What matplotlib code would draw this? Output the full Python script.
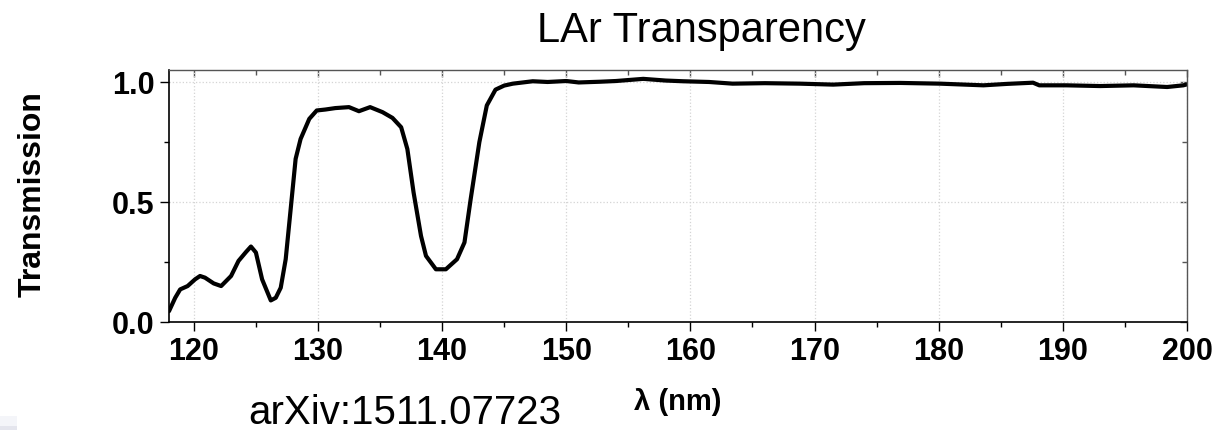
import matplotlib
matplotlib.use("Agg")
import matplotlib.pyplot as plt
from matplotlib.patches import Rectangle

plt.rcParams['font.family'] = ['Liberation Sans', 'DejaVu Sans']

# Data
wavelength_nm = [118.0, 118.5, 118.9, 119.5, 120.1, 120.5, 120.9, 121.6, 122.2, 123.0,
                 123.6, 124.2, 124.6, 125.0, 125.5, 126.2, 126.6, 127.0, 127.4, 127.8,
                 128.2, 128.6, 129.3, 129.9, 130.6, 131.4, 132.5, 133.3, 134.2, 135.2,
                 136.0, 136.7, 137.2, 137.7, 138.3, 138.7, 139.5, 140.3, 141.2, 141.8,
                 142.3, 143.0, 143.6, 144.3, 145.0, 145.7, 147.3, 148.5, 150.0, 151.0,
                 152.7, 154.0, 156.2, 158.0, 159.4, 161.5, 163.4, 166.0, 168.8, 171.5,
                 174.0, 176.9, 180.1, 183.6, 185.5, 187.6, 188.1, 190.3, 193.0, 195.7,
                 198.4, 199.7, 200.0]
transmission = [0.043, 0.099, 0.134, 0.148, 0.176, 0.190, 0.183, 0.159, 0.148, 0.190,
                0.253, 0.290, 0.313, 0.288, 0.176, 0.088, 0.099, 0.141, 0.260, 0.469,
                0.679, 0.762, 0.846, 0.881, 0.885, 0.891, 0.895, 0.878, 0.895, 0.874,
                0.850, 0.811, 0.720, 0.539, 0.357, 0.274, 0.218, 0.218, 0.260, 0.330,
                0.511, 0.749, 0.902, 0.968, 0.985, 0.993, 1.003, 1.000, 1.004, 0.998,
                1.001, 1.004, 1.013, 1.006, 1.003, 1.000, 0.993, 0.995, 0.993, 0.989,
                0.995, 0.996, 0.993, 0.986, 0.992, 0.997, 0.986, 0.986, 0.983, 0.986,
                0.979, 0.986, 0.990]

x_major = [120, 130, 140, 150, 160, 170, 180, 190, 200]
x_minor = [125, 135, 145, 155, 165, 175, 185, 195]
y_major = [0.0, 0.5, 1.0]
y_minor = [0.25, 0.75]
y_labels = ['0.0', '0.5', '1.0']

title = 'LAr Transparency'
xlabel = 'λ (nm)'
ylabel = 'Transmission'
source = 'arXiv:1511.07723'

W, H = 1219, 431
fig = plt.figure(figsize=(W / 100, H / 100), dpi=100)
L, R, T, B = 169, 1187, 71, 322.5
ax = fig.add_axes([L / W, 1 - B / H, (R - L) / W, (B - T) / H])

ax.plot(wavelength_nm, transmission, color='black', lw=3.0,
        solid_joinstyle='round', solid_capstyle='round')

ax.set_xlim(118, 200)
ax.set_ylim(0, 1.05)
ax.set_xticks(x_major)
ax.set_xticks(x_minor, minor=True)
ax.set_yticks(y_major)
ax.set_yticks(y_minor, minor=True)
ax.set_yticklabels(y_labels)

ax.grid(True, which='major', linestyle=':', color='#d4d4d4', lw=0.9)

ax.tick_params(axis='both', which='major', direction='out', length=6.5, width=1.0,
               labelsize=22, pad=4)
ax.tick_params(axis='both', which='minor', direction='out', length=3.5, width=1.0)
for lab in ax.get_xticklabels() + ax.get_yticklabels():
    lab.set_fontweight('bold')

for side in ['left', 'bottom']:
    ax.spines[side].set_linewidth(1.2)
    ax.spines[side].set_color('black')
for side in ['top', 'right']:
    ax.spines[side].set_linewidth(1.0)
    ax.spines[side].set_color('#555555')

# Inward mirror ticks on top and right
axt = ax.secondary_xaxis('top')
axt.set_xticks(x_major)
axt.set_xticks(x_minor, minor=True)
axt.tick_params(which='major', direction='in', length=5, width=1.0, labeltop=False, color='#555555')
axt.tick_params(which='minor', direction='in', length=3.5, width=1.0, color='#555555')
axt.spines['top'].set_visible(False)
axr = ax.secondary_yaxis('right')
axr.set_yticks(y_major)
axr.set_yticks(y_minor, minor=True)
axr.tick_params(which='major', direction='in', length=5, width=1.0, labelright=False, color='#555555')
axr.tick_params(which='minor', direction='in', length=3.5, width=1.0, color='#555555')
axr.spines['right'].set_visible(False)

fig.text(701 / W, 1 - 42 / H, title, fontsize=30, ha='center', va='baseline')
fig.text(33 / W, 1 - 194 / H, ylabel, fontsize=23, fontweight='bold', rotation=90,
         ha='center', va='center')
fig.text(678 / W, 1 - 402 / H, xlabel, fontsize=21, fontweight='bold',
         ha='center', va='center')
fig.text(248 / W, 1 - 424 / H, source, fontsize=29, ha='left', va='baseline')

# small light box in the bottom-left corner
fig.patches.append(Rectangle((0, 0), 17 / W, 14 / H, transform=fig.transFigure,
                             facecolor='#f4f5f9', edgecolor='none'))
fig.patches.append(Rectangle((0, 0), 17 / W, 4 / H, transform=fig.transFigure,
                             facecolor='#e4e5ed', edgecolor='none'))

fig.savefig('out.png', dpi=100)
